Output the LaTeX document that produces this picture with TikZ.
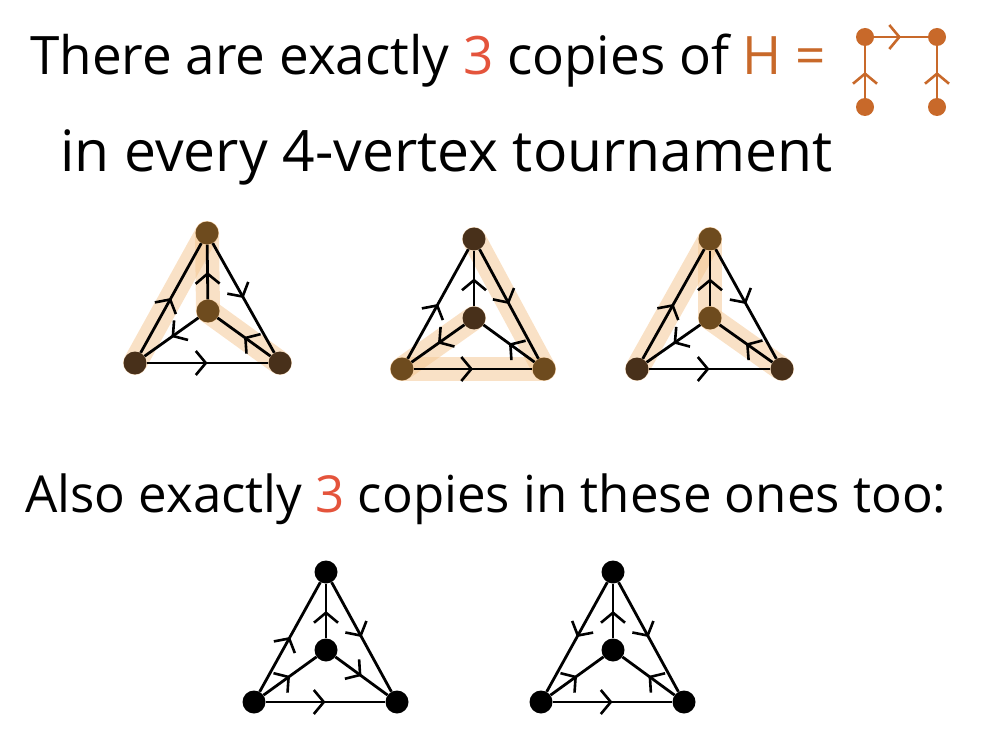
\documentclass[tikz,border=0pt]{standalone}
\usepackage{fontspec}
\setmainfont{Open Sans}
\usepackage{xcolor}
\usetikzlibrary{positioning,arrows.meta,decorations.markings}

\definecolor{numred}{HTML}{E4543C}
\definecolor{hcol}{HTML}{C8692A}
\definecolor{hlcol}{HTML}{F3C48E}
\definecolor{lightbr}{HTML}{6E4B1E}
\definecolor{darkbr}{HTML}{48301A}

\begin{document}
\begin{tikzpicture}[
			x=1pt, y=-1pt,
			vtx/.style={circle, inner sep=0pt, minimum size=23pt, fill=black},
			hvtx/.style={circle, inner sep=0pt, minimum size=18pt, fill=hcol},
			edge/.style={line width=2.8pt, postaction=decorate,
				decoration={markings, mark=at position 0.5 with {\arrow{Straight Barb[length=10pt,width=24pt,line width=2.6pt]}}}},
			hedge/.style={edge, line width=2.2pt, draw=hcol},
			hl/.style={line width=24pt, draw=hlcol, draw opacity=0.5, line cap=round},
			txt/.style={anchor=base west, inner sep=0pt}
			]
	\useasboundingbox (0,0) rectangle (988,754);
	
	%% Texte
	\node[txt, font=\fontsize{53}{60}\selectfont] (line1) at (30,75) {There are exactly {\color{numred}3} copies of {\color{hcol}H =}};
	\node[txt, font=\fontsize{57}{60}\selectfont] (line2) at (60,172) {in every 4-vertex tournament};
	\node[txt, font=\fontsize{51}{60}\selectfont] (line3) at (25,512) {Also exactly {\color{numred}3} copies in these ones too:};
	
	%% H
	\node[hvtx] (ha) at (865,37) {};
	\node[hvtx] (hb) at (937,37) {};
	\node[hvtx] (hc) at (865,107) {};
	\node[hvtx] (hd) at (937,107) {};
	\draw[hedge] (ha) -- (hb);
	\draw[hedge] (hc) -- (ha);
	\draw[hedge] (hd) -- (hb);
	
	%% Tournoi 1
	\draw[hl] (135,363) -- (207,233);
	\draw[hl] (207,233) -- (208,311);
	\draw[hl] (208,311) -- (280,363);
	\node[vtx, fill=lightbr] (aT) at (207,233) {};
	\node[vtx, fill=lightbr] (aC) at (208,311) {};
	\node[vtx, fill=darkbr] (aL) at (135,363) {};
	\node[vtx, fill=darkbr] (aR) at (280,363) {};
	\draw[edge] (aL) -- (aT);
	\draw[edge] (aT) -- (aR);
	\draw[edge] (aC) -- (aT);
	\draw[edge] (aC) -- (aL);
	\draw[edge] (aR) -- (aC);
	\draw[edge] (aL) -- (aR);
	
	%% Tournoi 2
	\draw[hl] (474,239) -- (544,369);
	\draw[hl] (544,369) -- (402,369);
	\draw[hl] (402,369) -- (474,318);
	\node[vtx, fill=darkbr] (bT) at (474,239) {};
	\node[vtx, fill=darkbr] (bC) at (474,318) {};
	\node[vtx, fill=lightbr] (bL) at (402,369) {};
	\node[vtx, fill=lightbr] (bR) at (544,369) {};
	\draw[edge] (bL) -- (bT);
	\draw[edge] (bT) -- (bR);
	\draw[edge] (bC) -- (bT);
	\draw[edge] (bC) -- (bL);
	\draw[edge] (bR) -- (bC);
	\draw[edge] (bL) -- (bR);
	
	%% Tournoi 3
	\draw[hl] (637,369) -- (710,239);
	\draw[hl] (710,239) -- (710,318);
	\draw[hl] (710,318) -- (782,369);
	\node[vtx, fill=lightbr] (cT) at (710,239) {};
	\node[vtx, fill=lightbr] (cC) at (710,318) {};
	\node[vtx, fill=darkbr] (cL) at (637,369) {};
	\node[vtx, fill=darkbr] (cR) at (782,369) {};
	\draw[edge] (cL) -- (cT);
	\draw[edge] (cT) -- (cR);
	\draw[edge] (cC) -- (cT);
	\draw[edge] (cC) -- (cL);
	\draw[edge] (cR) -- (cC);
	\draw[edge] (cL) -- (cR);
	
	%% Tournoi 4
	\node[vtx] (dT) at (326,572) {};
	\node[vtx] (dC) at (326,650) {};
	\node[vtx] (dL) at (254,702) {};
	\node[vtx] (dR) at (397,702) {};
	\draw[edge] (dL) -- (dT);
	\draw[edge] (dT) -- (dR);
	\draw[edge] (dC) -- (dT);
	\draw[edge] (dL) -- (dC);
	\draw[edge] (dC) -- (dR);
	\draw[edge] (dL) -- (dR);
	
	%% Tournoi 5
	\node[vtx] (eT) at (613,572) {};
	\node[vtx] (eC) at (613,650) {};
	\node[vtx] (eL) at (541,702) {};
	\node[vtx] (eR) at (684,702) {};
	\draw[edge] (eT) -- (eL);
	\draw[edge] (eT) -- (eR);
	\draw[edge] (eC) -- (eT);
	\draw[edge] (eL) -- (eC);
	\draw[edge] (eR) -- (eC);
	\draw[edge] (eL) -- (eR);
	
\end{tikzpicture}
\end{document}
